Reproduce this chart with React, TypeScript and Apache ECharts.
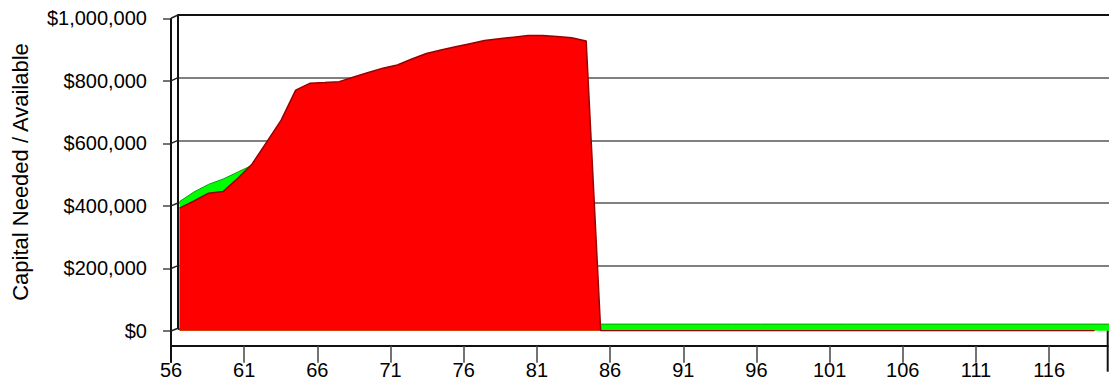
import React, { useEffect, useRef } from 'react';
import * as echarts from 'echarts';

// Ages along the horizontal axis
const ages: string[] = Array.from({ length: 65 }, (_, i) => String(56 + i));

// Capital needed by age (56 .. 119)
const capitalNeeded: (number | null)[] = [
  391000, 414000, 439000, 444000, 486000, 532000, 602000, 672000, 768000, 790000,
  792000, 795000, 810000, 824000, 838000, 848000, 867000, 885000, 896000, 906000,
  916000, 926000, 932000, 937000, 942000, 942000, 939000, 935000, 925000,
  0, 0, 0, 0, 0, 0, 0, 0, 0, 0,
  0, 0, 0, 0, 0, 0, 0, 0, 0, 0,
  0, 0, 0, 0, 0, 0, 0, 0, 0, 0,
  0, 0, 0, 0, 0,
  null,
];

// Capital available by age (56 .. 120)
const capitalAvailable: number[] = [
  412000, 443000, 467000, 484000, 506000, 528000, 590000, 655000, 745000, 775000,
  782000, 785000, 798000, 812000, 826000, 838000, 855000, 873000, 886000, 896000,
  906000, 915000, 922000, 927000, 930000, 930000, 925000, 880000, 195000,
  21000, 21000, 21000, 21000, 21000, 21000, 21000, 21000, 21000, 21000,
  21000, 21000, 21000, 21000, 21000, 21000, 21000, 21000, 21000, 21000,
  21000, 21000, 21000, 21000, 21000, 21000, 21000, 21000, 21000, 21000,
  21000, 21000, 21000, 21000, 21000, 21000,
];

const yTicks: number[] = [0, 200000, 400000, 600000, 800000, 1000000];
const Y_MAX = 1000000;
const Y_STEP = 200000;

// Layout of the pseudo-3D frame
const W = 1109;
const H = 384;
const STEP = 14.636;
const SPAN = STEP * (ages.length - 1);
const BACK_SPAN = 14.86 * (ages.length - 1);
const FRONT_LEFT = 171;
const FRONT_TOP = 18.3;
const FRONT_ZERO = 331;
const WALL_LEFT = 178;
const WALL_TOP = 15;
const WALL_ZERO = 328.3;
const FLOOR_Y = 345.7;
const SERIES_LEFT = 179.5;
const SERIES_TOP = 17.4;
const SERIES_ZERO = 330.7;

const FONT = "'Liberation Sans', Arial, Helvetica, sans-serif";

const money = (v: number) => '$' + v.toLocaleString('en-US');

export default function App() {
  const ref = useRef<HTMLDivElement>(null);

  useEffect(() => {
    if (!ref.current) return;
    const chart = echarts.init(ref.current, undefined, { renderer: 'svg' });

    const hiddenCat = {
      type: 'category' as const,
      data: ages,
      boundaryGap: false,
      show: false,
    };
    const hiddenVal = { type: 'value' as const, min: 0, max: Y_MAX, show: false };

    const diagonals = yTicks.map((v) => {
      const yF = FRONT_ZERO - (v / Y_MAX) * (FRONT_ZERO - FRONT_TOP);
      const yB = WALL_ZERO - (v / Y_MAX) * (WALL_ZERO - WALL_TOP);
      return {
        type: 'line',
        shape: { x1: FRONT_LEFT, y1: yF, x2: WALL_LEFT, y2: yB },
        style: { stroke: '#222', lineWidth: 1.5 },
        z: 5,
      };
    });

    chart.setOption({
      animation: false,
      backgroundColor: '#ffffff',
      grid: [
        { left: WALL_LEFT, top: WALL_TOP, width: W - WALL_LEFT, height: WALL_ZERO - WALL_TOP },
        { left: SERIES_LEFT, top: SERIES_TOP, width: SPAN, height: SERIES_ZERO - SERIES_TOP },
        { left: SERIES_LEFT, top: SERIES_TOP, width: BACK_SPAN, height: SERIES_ZERO - SERIES_TOP },
        { left: FRONT_LEFT, top: FRONT_TOP, width: SPAN, height: FRONT_ZERO - FRONT_TOP },
        { left: FRONT_LEFT, top: FLOOR_Y - 40, width: SPAN, height: 40 },
      ],
      xAxis: [
        { type: 'value', min: 0, max: 1, show: false, gridIndex: 0 },
        { ...hiddenCat, gridIndex: 1 },
        { ...hiddenCat, gridIndex: 2 },
        { ...hiddenCat, gridIndex: 3 },
        {
          type: 'category',
          data: ages,
          boundaryGap: false,
          gridIndex: 4,
          axisLine: { show: true, lineStyle: { color: '#111', width: 2 } },
          axisTick: { show: true, interval: 4, length: 17, lineStyle: { color: '#444', width: 1.5 } },
          axisLabel: {
            interval: 4,
            margin: 14,
            fontSize: 20,
            fontFamily: FONT,
            color: '#000',
          },
          splitLine: { show: false },
        },
      ],
      yAxis: [
        {
          type: 'value',
          gridIndex: 0,
          min: 0,
          max: Y_MAX,
          interval: Y_STEP,
          axisLine: { show: true, lineStyle: { color: '#111', width: 2 } },
          axisTick: { show: false },
          axisLabel: { show: false },
          splitLine: {
            show: true,
            lineStyle: {
              color: ['#333', '#808080', '#808080', '#808080', '#808080', '#111'],
              width: 2,
            },
          },
        },
        { ...hiddenVal, gridIndex: 1 },
        { ...hiddenVal, gridIndex: 2 },
        {
          type: 'value',
          gridIndex: 3,
          min: 0,
          max: Y_MAX,
          interval: Y_STEP,
          axisLine: { show: false },
          axisTick: { show: true, length: 8, lineStyle: { color: '#444', width: 1.5 } },
          axisLabel: {
            margin: 24,
            fontSize: 20,
            fontFamily: FONT,
            color: '#000',
            formatter: (v: number) => money(v),
          },
          splitLine: { show: false },
        },
        { type: 'value', gridIndex: 4, show: false },
      ],
      series: [
        {
          name: 'Capital Available',
          type: 'line',
          xAxisIndex: 2,
          yAxisIndex: 2,
          data: capitalAvailable,
          symbol: 'none',
          z: 2,
          lineStyle: { color: '#00a000', width: 1 },
          areaStyle: { color: '#00ff00', opacity: 1 },
        },
        {
          name: 'Capital Needed',
          type: 'line',
          xAxisIndex: 1,
          yAxisIndex: 1,
          data: capitalNeeded,
          symbol: 'none',
          z: 3,
          lineStyle: { color: '#990000', width: 1.5 },
          areaStyle: { color: '#ff0000', opacity: 1 },
        },
      ],
      graphic: [
        {
          type: 'line',
          shape: { x1: FRONT_LEFT, y1: FRONT_TOP, x2: FRONT_LEFT, y2: FLOOR_Y + 17 },
          style: { stroke: '#111', lineWidth: 2 },
          z: 5,
        },
        {
          type: 'line',
          shape: { x1: FRONT_LEFT + SPAN, y1: SERIES_ZERO, x2: FRONT_LEFT + SPAN, y2: FLOOR_Y + 26 },
          style: { stroke: '#111', lineWidth: 2 },
          z: 5,
        },
        ...diagonals,
        {
          type: 'text',
          x: 20,
          y: 172,
          rotation: Math.PI / 2,
          style: {
            text: 'Capital Needed / Available',
            fontSize: 22,
            fontFamily: FONT,
            fill: '#000',
            align: 'center',
            verticalAlign: 'middle',
          },
        },
      ],
    });

    return () => chart.dispose();
  }, []);

  return (
    <div
      ref={ref}
      style={{ position: 'fixed', left: 0, top: 0, width: W, height: H }}
    />
  );
}
